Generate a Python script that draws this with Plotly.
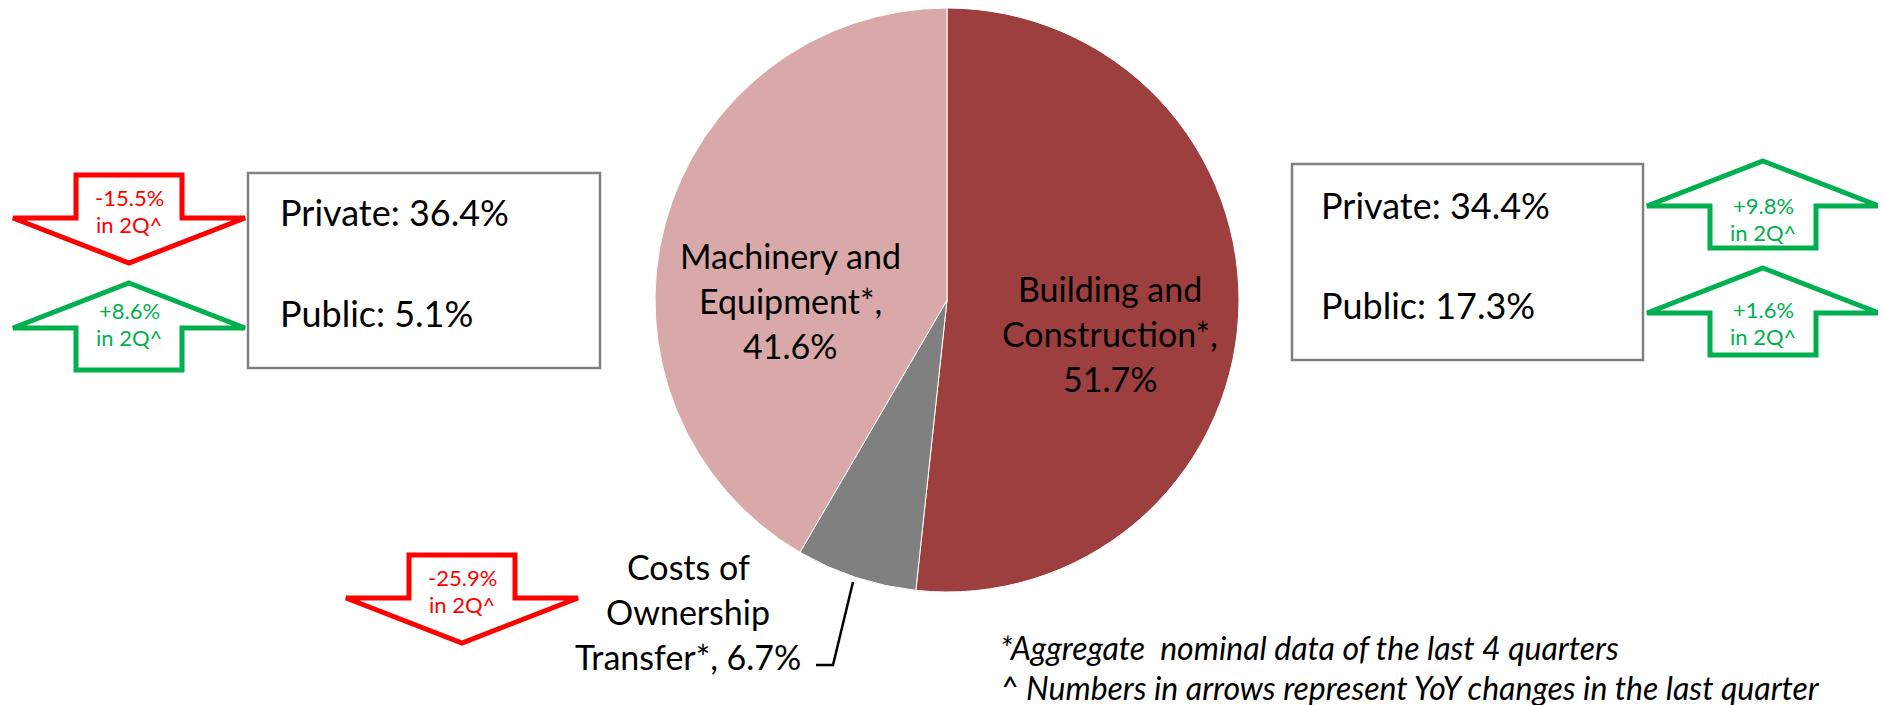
import plotly.graph_objects as go

# investment composition, share of total (%)
segments = ["Building and Construction*", "Costs of Ownership Transfer*", "Machinery and Equipment*"]
shares = [51.7, 6.7, 41.6]

# private / public split of each block (%)
split_names = ["Private", "Public"]
building_split = [34.4, 17.3]
machinery_split = [36.4, 5.1]

# YoY change in 2Q (%), shown inside the arrows
building_yoy = [9.8, 1.6]
machinery_yoy = [-15.5, 8.6]
ownership_yoy = [-25.9]

footnotes = ["*Aggregate\u00a0\u00a0nominal data of the last 4 quarters",
             "^ Numbers in arrows represent YoY changes in the last quarter"]

W, H = 1886, 705
OFF = 8  # page margin around the plot div
FONT = "Lato, 'Open Sans', sans-serif"
slice_colors = ["#9D3F3F", "#808080", "#D9A9A9"]
UP, DOWN = "#00B050", "#FF0000"

fig = go.Figure()

# pie placed in page pixels: centre (947, 300), radius 292
cx, cy, r = 947, 300, 292
by = H - (cy - OFF)
fig.add_trace(go.Pie(
    labels=segments, values=shares, sort=False, direction="clockwise", rotation=0,
    marker=dict(colors=slice_colors, line=dict(color="white", width=1)),
    textinfo="none", hoverinfo="label+value", showlegend=False,
    domain=dict(x=[(cx - r - OFF) / W, (cx + r - OFF) / W],
                y=[max(0, (by - r) / H), min(1, (by + r) / H)]),
))

# invisible pixel axes for the decorations
fig.add_trace(go.Scatter(x=[OFF, W + OFF], y=[OFF, H + OFF], mode="markers",
                         marker=dict(opacity=0), hoverinfo="skip", showlegend=False))


def pct(v):
    return f"{v:.1f}%"


def text(x, y, s, size, color="black", anchor="center", italic=False):
    fig.add_annotation(x=x, y=y, xref="x", yref="y", text=s, showarrow=False,
                       xanchor=anchor, yanchor="middle",
                       font=dict(family=FONT, size=size, color=color,
                                 style="italic" if italic else "normal"))


def arrow(xc, top, change, text_off):
    hw, sw = 116, 53
    if change < 0:
        y1, y2 = top + 43, top + 88
        pts = [(xc - sw, top), (xc + sw, top), (xc + sw, y1), (xc + hw, y1), (xc, y2),
               (xc - hw, y1), (xc - sw, y1)]
        col = DOWN
    else:
        y1, y2 = top + 45, top + 87
        pts = [(xc, top), (xc + hw, y1), (xc + sw, y1), (xc + sw, y2), (xc - sw, y2),
               (xc - sw, y1), (xc - hw, y1)]
        col = UP
    path = "M " + " L ".join(f"{px},{py}" for px, py in pts) + " Z"
    fig.add_shape(type="path", path=path, xref="x", yref="y", fillcolor="white",
                  line=dict(color=col, width=5), layer="above")
    sign = "+" if change > 0 else ""
    text(xc, top + text_off, f"{sign}{change:.1f}%", 22, col)
    text(xc, top + text_off + 27, "in 2Q^", 22, col)


# slice labels
mach_lines = ["Machinery and", "Equipment*,", pct(shares[2])]
for i, s in enumerate(mach_lines):
    text(790, 255 + 45 * i, s, 34)
build_lines = ["Building and", "Construction*,", pct(shares[0])]
for i, s in enumerate(build_lines):
    text(1110, 288 + 45 * i, s, 34)
own_lines = ["Costs of", "Ownership", "Transfer*, " + pct(shares[1])]
for i, s in enumerate(own_lines):
    text(688, 566 + 45 * i, s, 34)

# leader line for the small slice
fig.add_shape(type="path", path="M 853,582 L 833,665 L 816,665", xref="x", yref="y",
              line=dict(color="black", width=2.5))

# split boxes
fig.add_shape(type="rect", x0=248, x1=600, y0=173, y1=368, xref="x", yref="y",
              line=dict(color="#808080", width=2.5), fillcolor="white", layer="below")
fig.add_shape(type="rect", x0=1292, x1=1643, y0=164, y1=360, xref="x", yref="y",
              line=dict(color="#808080", width=2.5), fillcolor="white", layer="below")
for i, (nm, v) in enumerate(zip(split_names, machinery_split)):
    text(278, 212 + 101 * i, f"{nm}: {pct(v)}", 36, anchor="left")
for i, (nm, v) in enumerate(zip(split_names, building_split)):
    text(1319, 205 + 100 * i, f"{nm}: {pct(v)}", 36, anchor="left")

# YoY arrows
arrow(129, 175, machinery_yoy[0], 22)
arrow(129, 283, machinery_yoy[1], 27)
arrow(1763, 161, building_yoy[0], 44)
arrow(1763, 268, building_yoy[1], 41)
arrow(462, 555, ownership_yoy[0], 22)

# footnotes
text(998, 647, footnotes[0], 32, anchor="left", italic=True)
text(998, 687, footnotes[1], 32, anchor="left", italic=True)

fig.update_layout(
    width=W, height=H, margin=dict(l=0, r=0, t=0, b=0),
    paper_bgcolor="white", plot_bgcolor="rgba(0,0,0,0)",
    xaxis=dict(range=[OFF, W + OFF], visible=False, fixedrange=True, domain=[0, 1]),
    yaxis=dict(range=[H + OFF, OFF], visible=False, fixedrange=True, domain=[0, 1]),
    font=dict(family=FONT),
)

fig.write_html("out.html")
